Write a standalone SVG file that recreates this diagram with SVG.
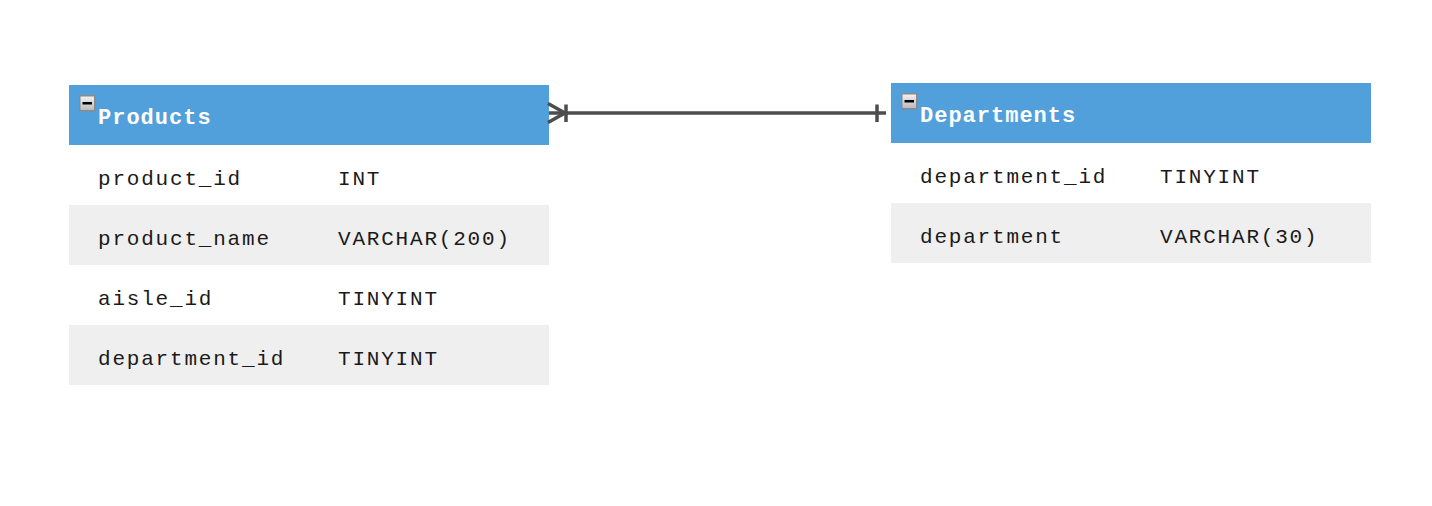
<svg xmlns="http://www.w3.org/2000/svg" width="1432" height="506" viewBox="0 0 1432 506">
<defs>
<linearGradient id="ig" x1="0" y1="0" x2="0" y2="1">
<stop offset="0" stop-color="#f4f4f4"/>
<stop offset="1" stop-color="#b8b8b8"/>
</linearGradient>
<g id="minus">
<rect x="0.75" y="0.75" width="15" height="15" fill="url(#ig)" stroke="#8a8a8a" stroke-width="1.5"/>
<rect x="3.5" y="7" width="9.5" height="2.5" fill="#000"/>
</g>
</defs>
<style>
.hdr{fill:#519fdb}
.alt{fill:#efefef}
.wht{fill:#ffffff}
.title{font-family:"Liberation Mono","Courier New",monospace;font-size:22px;letter-spacing:1px;font-weight:bold;fill:#ffffff}
.cell{font-family:"Liberation Mono","Courier New",monospace;font-size:21px;letter-spacing:1.8px;fill:#1a1a1a}
.conn{stroke:#4d4d4d;stroke-width:3.5;fill:none}
</style>
<rect width="1432" height="506" fill="#ffffff"/>
<g id="products">
<rect class="hdr" x="69" y="85" width="480" height="60"/>
<use href="#minus" x="79" y="95"/>
<text class="title" x="98" y="123.5">Products</text>
<rect class="wht" x="69" y="145" width="480" height="60"/>
<rect class="alt" x="69" y="205" width="480" height="60"/>
<rect class="wht" x="69" y="265" width="480" height="60"/>
<rect class="alt" x="69" y="325" width="480" height="60"/>
<text class="cell" x="98" y="184.5">product_id</text>
<text class="cell" x="338" y="184.5">INT</text>
<text class="cell" x="98" y="244.5">product_name</text>
<text class="cell" x="338" y="244.5">VARCHAR(200)</text>
<text class="cell" x="98" y="304.5">aisle_id</text>
<text class="cell" x="338" y="304.5">TINYINT</text>
<text class="cell" x="98" y="364.5">department_id</text>
<text class="cell" x="338" y="364.5">TINYINT</text>
</g>
<g id="departments">
<rect class="hdr" x="891" y="83" width="480" height="60"/>
<use href="#minus" x="901" y="93"/>
<text class="title" x="920" y="121.5">Departments</text>
<rect class="wht" x="891" y="143" width="480" height="60"/>
<rect class="alt" x="891" y="203" width="480" height="60"/>
<text class="cell" x="920" y="182.5">department_id</text>
<text class="cell" x="1160" y="182.5">TINYINT</text>
<text class="cell" x="920" y="242.5">department</text>
<text class="cell" x="1160" y="242.5">VARCHAR(30)</text>
</g>
<g id="connectors">
<path class="conn" d="M549 113 H886"/>
<path class="conn" d="M548 103.5 L565 113 L548 122.5"/>
<path class="conn" d="M566 104.5 V122"/>
<path class="conn" d="M877 104.5 V122"/>
</g>
</svg>
